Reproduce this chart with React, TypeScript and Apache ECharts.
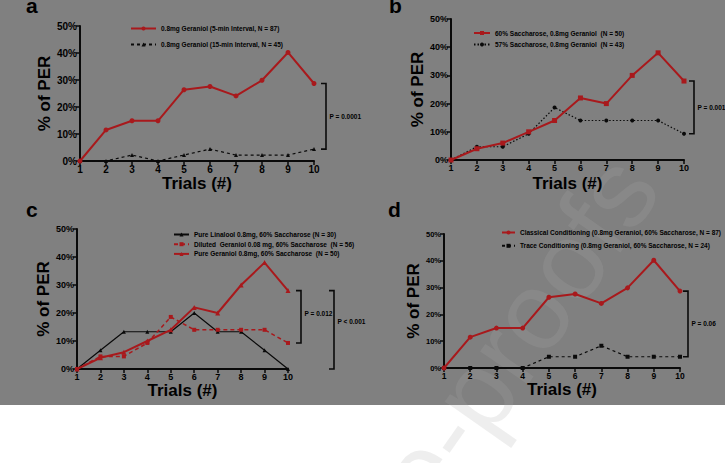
import React, { useEffect, useRef } from 'react';
import * as echarts from 'echarts';

const trials = ['1', '2', '3', '4', '5', '6', '7', '8', '9', '10'];
const yTicks = [0, 10, 20, 30, 40, 50];

// panel a
const aRedName = '0.8mg Geraniol (5-min Interval, N = 87)';
const aBlackName = '0.8mg Geraniol (15-min Interval, N = 45)';
const aRed = [0, 11.5, 14.9, 14.9, 26.4, 27.6, 24.1, 29.9, 40.2, 28.7];
const aBlack = [0, 0, 2.2, 0, 2.2, 4.4, 2.2, 2.2, 2.2, 4.4];
// panel b
const bRedName = '60% Saccharose, 0.8mg Geraniol  (N = 50)';
const bBlackName = '57% Saccharose, 0.8mg Geraniol  (N = 43)';
const bRed = [0, 4, 6, 10, 14, 22, 20, 30, 38, 28];
const bBlack = [0, 4.7, 4.7, 9.3, 18.6, 14, 14, 14, 14, 9.3];
// panel c
const cLinaloolName = 'Pure Linalool 0.8mg, 60% Saccharose (N = 30)';
const cDilutedName = 'Diluted  Geraniol 0.08 mg, 60% Saccharose  (N = 56)';
const cPureName = 'Pure Geraniol 0.8mg, 60% Saccharose  (N = 50)';
const cLinalool = [0, 6.7, 13.3, 13.3, 13.3, 20, 13.3, 13.3, 6.7, 0];
const cDiluted = [0, 4.5, 4.5, 9.3, 18.6, 14, 14, 14, 14, 9.3];
const cPure = [0, 4, 6, 10, 14, 22, 20, 30, 38, 28];
// panel d
const dClassicalName = 'Classical Conditioning (0.8mg Geraniol, 60% Saccharose, N = 87)';
const dTraceName = 'Trace Conditioning (0.8mg Geraniol, 60% Saccharose, N = 24)';
const dClassical = [0, 11.5, 14.9, 14.9, 26.4, 27.6, 24.1, 29.9, 40.2, 28.7];
const dTrace = [0, 0, 0, 0, 4.2, 4.2, 8.3, 4.2, 4.2, 4.2];

const pLabels = ['P = 0.0001', 'P = 0.001', 'P = 0.012', 'P < 0.001', 'P = 0.06'];
const panelLetters = ['a', 'b', 'c', 'd'];

const RED = '#a8191c';
const BLACK = '#0a0a0a';
const FONT = "'Liberation Sans', Arial, sans-serif";
const NARROW = "'Liberation Sans Narrow', 'Liberation Sans', Arial, sans-serif";

const grids = [
  { left: 80, top: 26, width: 234, height: 135 },
  { left: 451, top: 19, width: 233, height: 141 },
  { left: 77, top: 229, width: 211, height: 140 },
  { left: 444, top: 234, width: 236, height: 134 },
];
const yLabelSize = [10, 9, 9, 7.5];
const xLabelSize = [10, 9, 9, 8.5];
const yNameGap = [22, 25, 21, 19];
const xNameGap = [12, 15, 12, 13];

export default function App() {
  const ref = useRef<HTMLDivElement>(null);
  useEffect(() => {
    if (!ref.current) return;
    const chart = echarts.init(ref.current, null, { renderer: 'svg' });

    const xAxes = grids.map((_, i) => ({
      type: 'category',
      gridIndex: i,
      data: trials,
      boundaryGap: false,
      name: 'Trials (#)',
      nameLocation: 'middle',
      nameGap: xNameGap[i],
      nameTextStyle: { fontFamily: NARROW, fontWeight: 'bold', fontSize: 17, color: '#000' },
      axisLine: { lineStyle: { color: BLACK, width: 2 } },
      axisTick: { show: true, length: 4, lineStyle: { color: BLACK, width: 1.5 } },
      axisLabel: { margin: 3, fontFamily: FONT, fontWeight: 'bold', fontSize: xLabelSize[i], color: '#000', interval: 0 },
      splitLine: { show: false },
    }));
    const yAxes = grids.map((_, i) => ({
      type: 'value',
      gridIndex: i,
      min: yTicks[0],
      max: yTicks[yTicks.length - 1],
      interval: 10,
      name: '% of PER',
      nameLocation: 'middle',
      nameGap: yNameGap[i],
      nameTextStyle: { fontFamily: NARROW, fontWeight: 'bold', fontSize: 17, color: '#000' },
      axisLine: { show: true, lineStyle: { color: BLACK, width: 2 } },
      axisTick: { show: true, length: 4, lineStyle: { color: BLACK, width: 1.5 } },
      axisLabel: { margin: 3, fontFamily: FONT, fontWeight: 'bold', fontSize: yLabelSize[i], color: '#000', formatter: '{value}%' },
      splitLine: { show: false },
    }));

    const mk = (name: string, data: number[], idx: number, color: string, symbol: string, size: number, width: number, type: any) => ({
      type: 'line',
      name,
      data,
      xAxisIndex: idx,
      yAxisIndex: idx,
      symbol,
      symbolSize: size,
      lineStyle: { color, width, type },
      itemStyle: { color },
      z: color === RED ? 3 : 2,
    });

    const series = [
      mk(aRedName, aRed, 0, RED, 'circle', 5, 2, 'solid'),
      mk(aBlackName, aBlack, 0, BLACK, 'triangle', 4, 1.2, [3, 3]),
      mk(bRedName, bRed, 1, RED, 'rect', 5, 2, 'solid'),
      mk(bBlackName, bBlack, 1, BLACK, 'circle', 4, 1.2, [1.5, 2]),
      mk(cLinaloolName, cLinalool, 2, BLACK, 'triangle', 4, 1.2, 'solid'),
      mk(cDilutedName, cDiluted, 2, RED, 'rect', 4, 1.5, [4, 3]),
      mk(cPureName, cPure, 2, RED, 'triangle', 5, 2, 'solid'),
      mk(dClassicalName, dClassical, 3, RED, 'circle', 5, 2, 'solid'),
      mk(dTraceName, dTrace, 3, BLACK, 'rect', 4, 1.2, [3, 3]),
    ];

    const legendText = { fontFamily: FONT, fontWeight: 'bold', fontSize: 6.5, color: '#000', lineHeight: 8 };
    const legends = [
      { data: [aRedName, aBlackName], left: 130, top: 24.5, itemWidth: 25, itemGap: 8 },
      { data: [bRedName, bBlackName], left: 473, top: 29, itemWidth: 16, itemGap: 3.6 },
      { data: [cLinaloolName, cDilutedName, cPureName], left: 173, top: 230.5, itemWidth: 15, itemGap: 1.7 },
      { data: [dClassicalName, dTraceName], left: 501, top: 228.5, itemWidth: 13, itemGap: 5.3 },
    ].map((l) => ({
      ...l,
      orient: 'vertical',
      itemHeight: 5,
      selectedMode: false,
      padding: 0,
      textStyle: legendText,
    }));

    const letterPos = [[26, 5], [389, 5], [26, 209], [388, 209]];

    chart.setOption({
      animation: false,
      backgroundColor: 'transparent',
      grid: grids.map((g) => ({ ...g, containLabel: false })),
      xAxis: xAxes,
      yAxis: yAxes,
      legend: legends,
      series,
    });

    // brackets computed from the data through the axes
    const brackets = [
      { g: 0, top: aRed[9], bot: aBlack[9], dx: 12, label: pLabels[0], ldy: 0 },
      { g: 1, top: bRed[9], bot: bBlack[9], dx: 10, label: pLabels[1], ldy: 0 },
      { g: 2, top: cPure[9], bot: cDiluted[9], dx: 13, label: pLabels[2], ldy: -3 },
      { g: 2, top: cPure[9], bot: cLinalool[9], dx: 46, label: pLabels[3], ldy: -8 },
      { g: 3, top: dClassical[9], bot: dTrace[9], dx: 8, label: pLabels[4], ldy: 0 },
    ];
    const graphics: any[] = [];
    brackets.forEach((b) => {
      const p1 = chart.convertToPixel({ gridIndex: b.g } as any, [9, b.top]) as number[];
      const p2 = chart.convertToPixel({ gridIndex: b.g } as any, [9, b.bot]) as number[];
      const x = p1[0] + b.dx;
      graphics.push({
        type: 'polyline',
        shape: { points: [[x - 5, p1[1]], [x, p1[1]], [x, p2[1]], [x - 5, p2[1]]] },
        style: { stroke: BLACK, lineWidth: 1.6, fill: 'none' },
      });
      graphics.push({
        type: 'text',
        x: x + 3.5,
        y: (p1[1] + p2[1]) / 2 + b.ldy,
        style: { text: b.label, fontFamily: FONT, fontWeight: 'bold', fontSize: 6.5, fill: '#000', textVerticalAlign: 'middle' },
      });
    });
    panelLetters.forEach((t, i) => {
      graphics.push({
        type: 'text',
        x: letterPos[i][0],
        y: letterPos[i][1],
        style: { text: t, fontFamily: FONT, fontWeight: 'bold', fontSize: 21, fill: '#000', textVerticalAlign: 'middle' },
      });
    });
    graphics.push({
      type: 'text',
      x: 158,
      y: 941,
      rotation: 0.96,
      silent: true,
      style: { text: 'Journal Pre-proofs', fontFamily: FONT, fontSize: 110, fill: 'rgba(172,172,172,0.2)', textVerticalAlign: 'bottom' },
    });
    chart.setOption({ graphic: graphics });

    return () => chart.dispose();
  }, []);

  return (
    <div
      ref={ref}
      style={{
        position: 'absolute',
        left: 0,
        top: 0,
        width: 725,
        height: 463,
        background: 'linear-gradient(to bottom, #808080 0px, #808080 405px, #ffffff 405px, #ffffff 463px)',
      }}
    />
  );
}
